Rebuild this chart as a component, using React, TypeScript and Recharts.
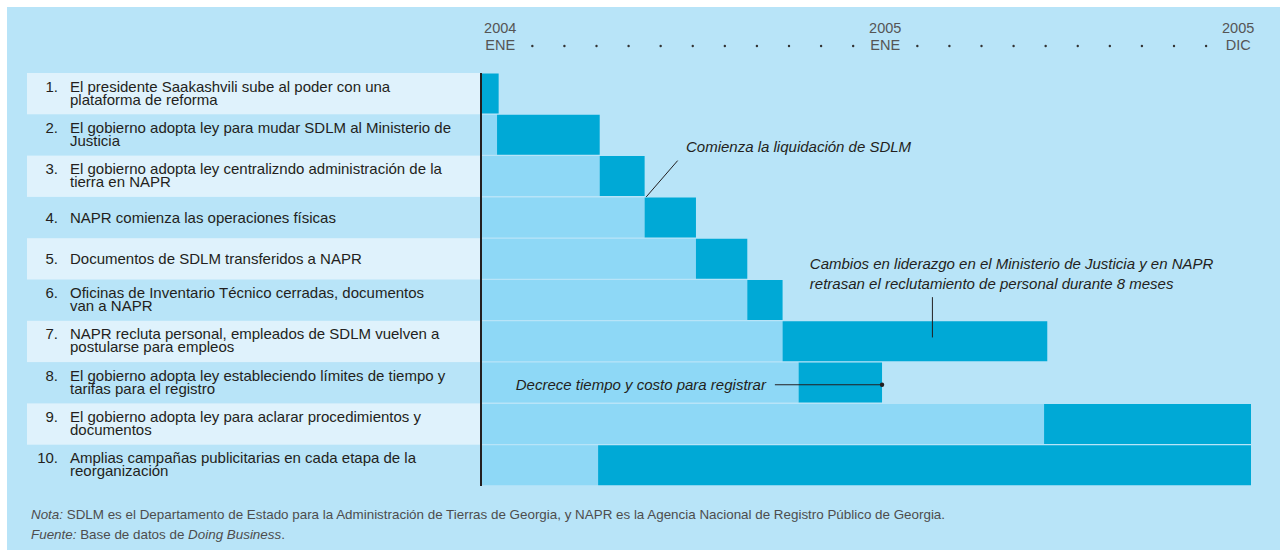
import React from 'react';
import { BarChart, Bar, XAxis, YAxis, ReferenceLine, ReferenceDot } from 'recharts';

// reform steps, '|' marks the line break used in the original layout
const steps = [
  'El presidente Saakashvili sube al poder con una|plataforma de reforma',
  'El gobierno adopta ley para mudar SDLM al Ministerio de|Justicia',
  'El gobierno adopta ley centralizndo administración de la|tierra en NAPR',
  'NAPR comienza las operaciones físicas',
  'Documentos de SDLM transferidos a NAPR',
  'Oficinas de Inventario Técnico cerradas, documentos|van a NAPR',
  'NAPR recluta personal, empleados de SDLM vuelven a|postularse para empleos',
  'El gobierno adopta ley estableciendo límites de tiempo y|tarifas para el registro',
  'El gobierno adopta ley para aclarar procedimientos y|documentos',
  'Amplias campañas publicitarias en cada etapa de la|reorganización',
];

// months since ENE 2004
const startMonth = [0, 0.5, 3.7, 5.1, 6.7, 8.3, 9.4, 9.9, 17.55, 3.65];
const endMonth = [0.55, 3.7, 5.1, 6.7, 8.3, 9.4, 17.65, 12.5, 24, 24];

// one tick per month, empty ones are drawn as dots
const monthLabels = [
  '2004|ENE', '', '', '', '', '', '', '', '', '', '', '',
  '2005|ENE', '', '', '', '', '', '', '', '', '', '', '2005|DIC',
];
const monthTicks = monthLabels.map((_, i) => i + 0.6);

const data = steps.map((name, i) => ({
  name,
  wait: startMonth[i],
  active: endMonth[i] - startMonth[i],
}));

const FONT = '"Liberation Sans", Arial, sans-serif';
const INK = '#231f20';

const StepTick = (props: any) => {
  const { y, payload, index } = props;
  const half = payload && payload.offset ? payload.offset : 20.65;
  const lines = String(payload.value).split('|');
  const base = lines.length > 1 ? y - 2 : y + 5;
  return (
    <g>
      {index % 2 === 0 && (
        <rect x={27} y={y - half} width={453} height={half * 2} fill="#dff2fc" />
      )}
      <text x={58} y={base} textAnchor="end" fontSize={15} fill={INK} fontFamily={FONT}>
        {index + 1}.
      </text>
      {lines.map((l, k) => (
        <text key={k} x={70} y={base + k * 13} fontSize={15} fill={INK} fontFamily={FONT}>
          {l}
        </text>
      ))}
    </g>
  );
};

const MonthTick = (props: any) => {
  const { x, index } = props;
  const label = monthLabels[index];
  if (!label) return <circle cx={x} cy={46} r={1.2} fill="#333" />;
  const [year, month] = label.split('|');
  return (
    <g fontFamily={FONT} fontSize={14.5} fill="#555" textAnchor="middle">
      <text x={x} y={33}>{year}</text>
      <text x={x} y={50}>{month}</text>
    </g>
  );
};

// italic note text, dy shifts it off the row centre it is anchored to
const AnnText = (props: any) => {
  const { viewBox, lines, anchor, dy } = props;
  if (!viewBox) return null;
  return (
    <g fontFamily={FONT} fontSize={15} fontStyle="italic" fill={INK} textAnchor={anchor || 'start'}>
      {lines.map((l: string, k: number) => (
        <text key={k} x={viewBox.x} y={viewBox.y + (dy || 0) + k * 20}>{l}</text>
      ))}
    </g>
  );
};

// leader line with small pixel trims at each end
const Leader = (dy1: number, dy2: number) => (p: any) => (
  <line x1={p.x1} y1={p.y1 + dy1} x2={p.x2} y2={p.y2 + dy2} stroke={INK} strokeWidth={1} />
);

export default function App() {
  return (
    <div style={{ position: 'absolute', left: 0, top: 0, width: 1280, height: 550, background: '#fff' }}>
      <div style={{ position: 'absolute', left: 7, top: 7, width: 1273, height: 543, background: '#b8e4f8' }} />
      <div style={{ position: 'absolute', left: 0, top: 0 }}>
        <BarChart
          width={1280}
          height={550}
          data={data}
          layout="vertical"
          margin={{ top: 30, right: 29, bottom: 64, left: 0 }}
          barCategoryGap={0.5}
        >
          <Bar dataKey="wait" stackId="s" fill="#8ed8f6" isAnimationActive={false} />
          <Bar dataKey="active" stackId="s" fill="#00a9d6" isAnimationActive={false} />
          <XAxis
            type="number"
            orientation="top"
            domain={[0, 24]}
            ticks={monthTicks}
            interval={0}
            height={43}
            axisLine={false}
            tickLine={false}
            tick={<MonthTick />}
          />
          <YAxis
            type="category"
            dataKey="name"
            width={481}
            interval={0}
            tickLine={false}
            axisLine={{ stroke: INK, strokeWidth: 2 }}
            tick={<StepTick />}
          />
          <ReferenceLine
            segment={[{ x: 5.15, y: steps[3] }, { x: 6.13, y: steps[2] }]}
            position="start"
            shape={Leader(0, 5)}
          />
          <ReferenceLine
            segment={[{ x: 14.07, y: steps[5] }, { x: 14.07, y: steps[6] }]}
            position="middle"
            shape={Leader(-3, -4)}
          />
          <ReferenceLine
            segment={[{ x: 9.16, y: steps[7] }, { x: 12.5, y: steps[7] }]}
            position="middle"
            shape={Leader(2, 2)}
          />
          <ReferenceDot x={12.5} y={steps[7]} r={2.2} fill={INK} stroke="none" shape={(p: any) => (
            <circle cx={p.cx} cy={p.cy + 2} r={2.2} fill={INK} />
          )} />
          <ReferenceDot
            x={6.39}
            y={steps[2]}
            r={0}
            fill="none"
            stroke="none"
            label={<AnnText dy={-24} lines={['Comienza la liquidación de SDLM']} />}
          />
          <ReferenceDot
            x={10.25}
            y={steps[5]}
            r={0}
            fill="none"
            stroke="none"
            label={
              <AnnText
                dy={-31}
                lines={[
                  'Cambios en liderazgo en el Ministerio de Justicia y en NAPR',
                  'retrasan el reclutamiento de personal durante 8 meses',
                ]}
              />
            }
          />
          <ReferenceDot
            x={8.88}
            y={steps[7]}
            r={0}
            fill="none"
            stroke="none"
            label={<AnnText anchor="end" dy={7.5} lines={['Decrece tiempo y costo para registrar']} />}
          />
        </BarChart>
      </div>
      <div
        style={{
          position: 'absolute',
          left: 31,
          top: 505,
          fontFamily: FONT,
          fontSize: 13.4,
          lineHeight: '20px',
          color: '#4d4d4d',
          whiteSpace: 'nowrap',
        }}
      >
        <div>
          <i>Nota:</i> SDLM es el Departamento de Estado para la Administración de Tierras de Georgia, y NAPR es la
          Agencia Nacional de Registro Público de Georgia.
        </div>
        <div>
          <i>Fuente:</i> Base de datos de <i>Doing Business</i>.
        </div>
      </div>
    </div>
  );
}
